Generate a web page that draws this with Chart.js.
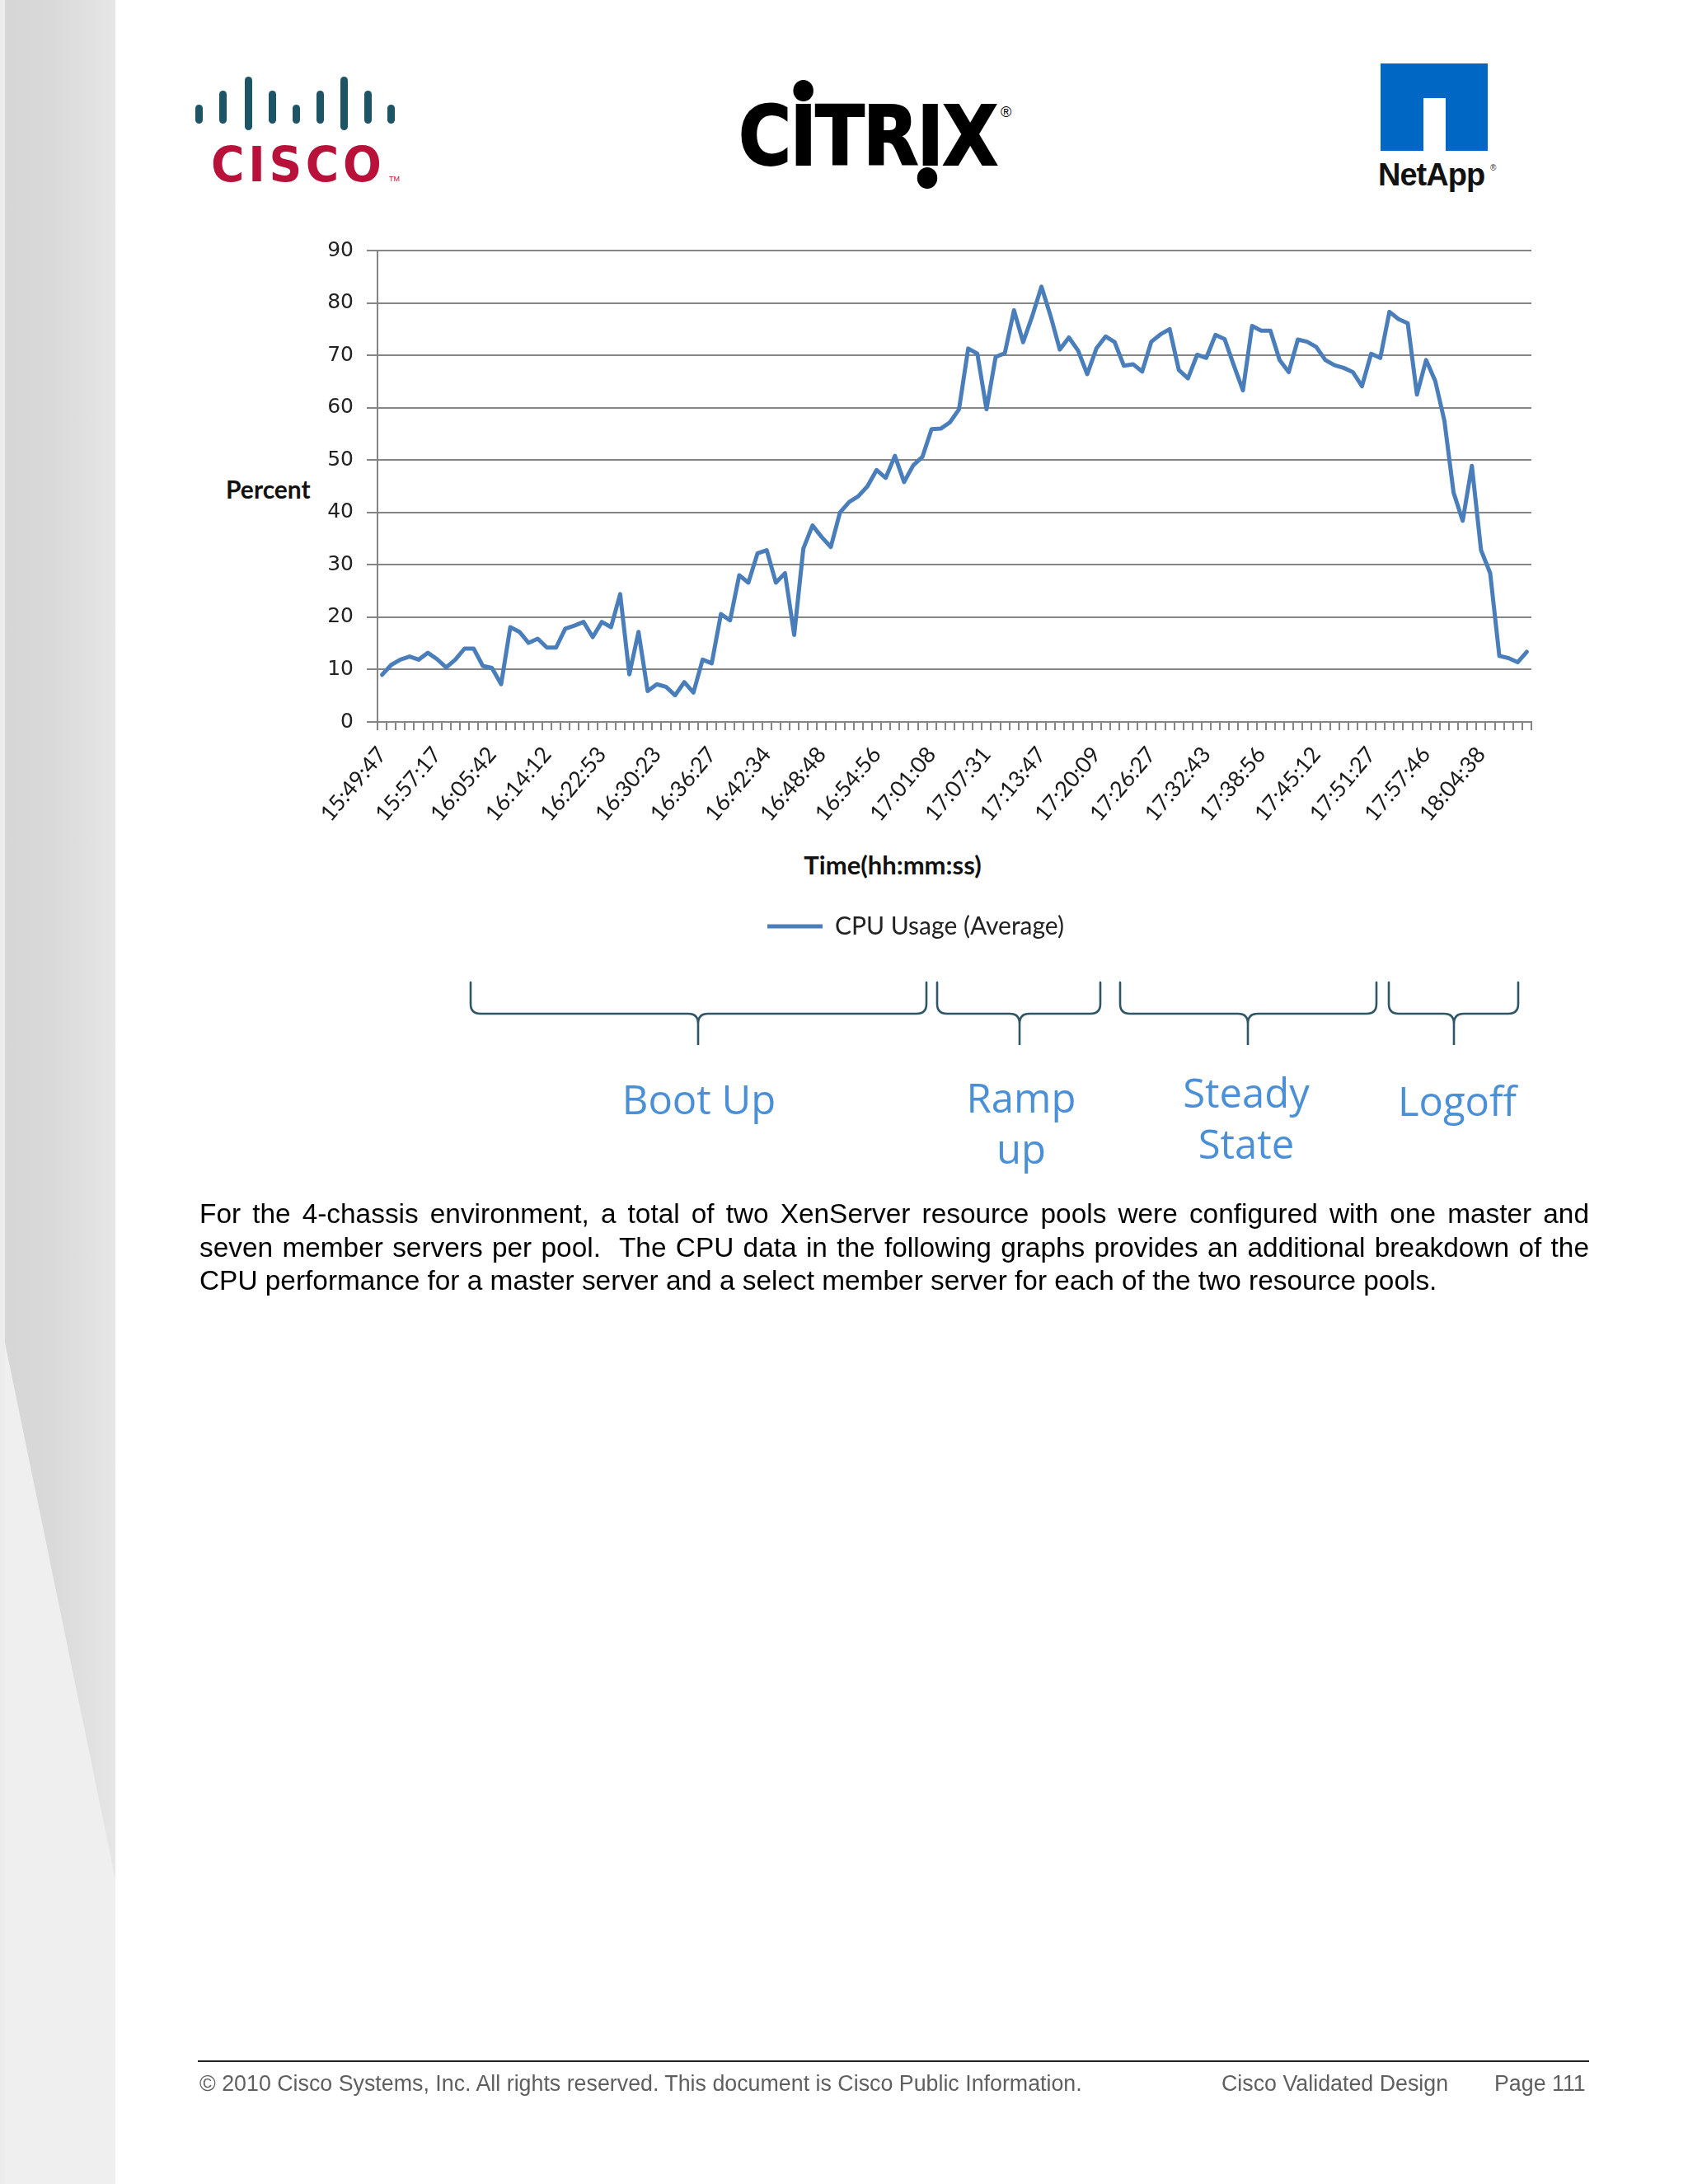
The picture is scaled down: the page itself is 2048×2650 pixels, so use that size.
<!DOCTYPE html>
<html>
<head>
<meta charset="utf-8">
<script src="https://cdn.jsdelivr.net/npm/chart.js@4.4.1/dist/chart.umd.min.js"></script>
<style>
  html, body { margin: 0; padding: 0; background: #fff; }
  body { width: 2048px; height: 2650px; position: relative; overflow: hidden; font-family: "Liberation Sans", Arial, sans-serif; }
  .abs { position: absolute; }
  #sidebar { left: 0; top: 0; width: 140px; height: 2650px;
    background: linear-gradient(to right, #e4e4e4 0px, #d6d6d6 8px, #d9d9d9 60px, #e6e6e6 140px); }
  #wedge { left: 0; top: 0; width: 140px; height: 2650px; }
  #chartBox { left: 250px; top: 270px; width: 1694px; height: 890px; }
  .cisco-bar { position: absolute; width: 9px; background: #1d5466; border-radius: 5px; }
  #ciscoText { left: 256px; top: 165px; font-family: "DejaVu Sans", sans-serif; font-weight: bold; font-size: 58px; letter-spacing: 5px; color: #b8123a; line-height: 70px; transform: scaleX(0.95); transform-origin: left; }
  #ciscoTM { left: 472px; top: 212px; font-size: 9px; color: #b8123a; font-family: "Liberation Sans"; }
  #citrix { left: 896px; top: 111px; display: flex; font-family: "DejaVu Sans", sans-serif; font-weight: bold; font-size: 100px; line-height: 110px; color: #000; -webkit-text-stroke: 2px #000; transform: scaleX(0.874); transform-origin: left top; }
  #citrix span { position: relative; display: inline-block; margin-right: -2px; }
  #citrix b { position: absolute; left: 50%; width: 28px; height: 26px; margin-left: -14px; background: #000; border-radius: 50%; }
  #citrix b.top { top: -14px; }
  #citrix b.bot { top: 92px; margin-left: -18px; }
  #netappBlock { left: 1675px; top: 77px; width: 130px; height: 106px; background: #0067c4; }
  #netappNotch { left: 1727px; top: 119px; width: 27px; height: 64px; background: #fff; }
  #netappText { left: 1672px; top: 190px; font-family: "Liberation Sans", sans-serif; font-weight: bold; font-size: 38px; line-height: 44px; color: #111; letter-spacing: -1px; }
  #netappR { left: 1808px; top: 198px; font-size: 10px; color: #333; }
  #percent { left: 274px; top: 574px; font-family: Lato, sans-serif; font-weight: bold; font-size: 30px; line-height: 38px; color: #111; }
  #xTitle { left: 883px; top: 1030px; width: 400px; text-align: center; font-family: Lato, sans-serif; font-weight: bold; font-size: 31px; line-height: 38px; color: #111; }
  .phase { position: absolute; font-family: "Open Sans", sans-serif; font-size: 49px; color: #4b90d6; text-align: center; line-height: 62px; width: 300px; }
  #para { left: 242px; top: 1453px; width: 1686px; font-family: "Liberation Sans", Arial, sans-serif; font-size: 33.4px; line-height: 40.6px; color: #000; }
  #para .j { display: block; text-align: justify; text-align-last: justify; white-space: nowrap; }
  #para .j.nj { text-align-last: left; }
  #footLine { left: 240px; top: 2500px; width: 1688px; height: 2px; background: #222; }
  .foot { position: absolute; top: 2512px; font-family: "Liberation Sans", Arial, sans-serif; font-size: 26.8px; line-height: 32px; color: #5f5f5f; }
</style>
</head>
<body>
<div id="sidebar" class="abs"></div>
<svg id="wedge" class="abs" width="140" height="2650" viewBox="0 0 140 2650">
  <polygon points="0,1600 140,2280 140,2650 0,2650" fill="#efefef"/>
  <rect x="0" y="0" width="6" height="2650" fill="#ececec"/>
</svg>

<!-- Cisco logo -->
<div class="cisco-bar" style="left:237px; top:127px; height:23px;"></div>
<div class="cisco-bar" style="left:266px; top:110px; height:40px;"></div>
<div class="cisco-bar" style="left:297px; top:93px; height:65px;"></div>
<div class="cisco-bar" style="left:326px; top:110px; height:40px;"></div>
<div class="cisco-bar" style="left:355px; top:127px; height:23px;"></div>
<div class="cisco-bar" style="left:384px; top:110px; height:40px;"></div>
<div class="cisco-bar" style="left:413px; top:93px; height:65px;"></div>
<div class="cisco-bar" style="left:442px; top:110px; height:40px;"></div>
<div class="cisco-bar" style="left:470px; top:127px; height:23px;"></div>
<div id="ciscoText" class="abs">CISCO</div>
<div id="ciscoTM" class="abs">TM</div>

<!-- Citrix logo -->
<div id="citrix" class="abs"><span>C</span><span>I<b class="top"></b></span><span>T</span><span>R</span><span>I<b class="bot"></b></span><span>X</span></div>
<div class="abs" style="left:1214px; top:126px; font-size:18px; font-family:'Liberation Sans'; color:#000;">®</div>

<!-- NetApp logo -->
<div id="netappBlock" class="abs"></div>
<div id="netappNotch" class="abs"></div>
<div id="netappText" class="abs">NetApp</div>
<div id="netappR" class="abs">®</div>

<div id="percent" class="abs">Percent</div>
<div id="xTitle" class="abs">Time(hh:mm:ss)</div>

<div id="chartBox" class="abs"><canvas id="cpuChart" width="1694" height="890"></canvas></div>

<!-- Phase braces -->
<svg class="abs" style="left:0; top:0;" width="2048" height="2650" viewBox="0 0 2048 2650">
  <g fill="none" stroke="#2e5666" stroke-width="2.6" stroke-linecap="round">
    <path d="M571,1192 L571,1218 Q571,1230 583,1230 L835,1230 Q847,1230 847,1242 L847,1268 L847,1242 Q847,1230 859,1230 L1112,1230 Q1124,1230 1124,1218 L1124,1192"/>
    <path d="M1137,1192 L1137,1218 Q1137,1230 1149,1230 L1225,1230 Q1237,1230 1237,1242 L1237,1268 L1237,1242 Q1237,1230 1249,1230 L1323,1230 Q1335,1230 1335,1218 L1335,1192"/>
    <path d="M1359,1192 L1359,1218 Q1359,1230 1371,1230 L1502,1230 Q1514,1230 1514,1242 L1514,1268 L1514,1242 Q1514,1230 1526,1230 L1658,1230 Q1670,1230 1670,1218 L1670,1192"/>
    <path d="M1685,1192 L1685,1218 Q1685,1230 1697,1230 L1752,1230 Q1764,1230 1764,1242 L1764,1268 L1764,1242 Q1764,1230 1776,1230 L1830,1230 Q1842,1230 1842,1218 L1842,1192"/>
  </g>
</svg>
<div class="phase" style="left:698px; top:1302px;">Boot Up</div>
<div class="phase" style="left:1089px; top:1300px;">Ramp<br>up</div>
<div class="phase" style="left:1362px; top:1294px;">Steady<br>State</div>
<div class="phase" style="left:1618px; top:1304px;">Logoff</div>

<div id="para" class="abs">
  <span class="j">For the 4-chassis environment, a total of two XenServer resource pools were configured with one master and</span>
  <span class="j">seven member servers per pool.&nbsp; The CPU data in the following graphs provides an additional breakdown of the</span>
  <span class="j nj">CPU performance for a master server and a select member server for each of the two resource pools.</span>
</div>

<div id="footLine" class="abs"></div>
<div class="foot" style="left:242px;">© 2010 Cisco Systems, Inc. All rights reserved. This document is Cisco Public Information.</div>
<div class="foot" style="left:1482px;">Cisco Validated Design</div>
<div class="foot" style="left:1813px;">Page 111</div>

<script>
// ---- Data ----
const seriesName = 'CPU Usage (Average)';
const cpuUsage = [
  9.0, 10.9, 11.9, 12.5, 11.9, 13.2, 12.0, 10.4, 11.9, 14.0,
  14.0, 10.7, 10.3, 7.2, 18.1, 17.2, 15.1, 15.9, 14.2, 14.2,
  17.8, 18.4, 19.1, 16.2, 19.1, 18.1, 24.4, 9.1, 17.2, 5.9,
  7.2, 6.7, 5.1, 7.6, 5.6, 11.9, 11.2, 20.6, 19.4, 28.0,
  26.6, 32.2, 32.8, 26.6, 28.4, 16.6, 33.1, 37.5, 35.3, 33.4,
  40.0, 42.0, 43.1, 45.0, 48.1, 46.6, 50.8, 45.8, 49.0, 50.6,
  55.9, 56.0, 57.2, 59.7, 71.3, 70.3, 59.7, 69.7, 70.4, 78.6,
  72.5, 77.5, 83.1, 77.5, 71.1, 73.4, 70.9, 66.4, 71.3, 73.6,
  72.5, 68.0, 68.3, 66.9, 72.6, 74.0, 75.0, 67.2, 65.6, 70.1,
  69.5, 73.9, 73.1, 68.1, 63.3, 75.6, 74.7, 74.7, 69.1, 66.8,
  73.0, 72.6, 71.6, 69.1, 68.1, 67.6, 66.8, 64.1, 70.3, 69.5,
  78.3, 76.9, 76.1, 62.5, 69.1, 65.1, 57.5, 43.8, 38.4, 48.9,
  32.8, 28.4, 12.6, 12.2, 11.4, 13.4
];
const tickLabels = [
  '15:49:47', '15:57:17', '16:05:42', '16:14:12', '16:22:53', '16:30:23', '16:36:27',
  '16:42:34', '16:48:48', '16:54:56', '17:01:08', '17:07:31', '17:13:47', '17:20:09',
  '17:26:27', '17:32:43', '17:38:56', '17:45:12', '17:51:27', '17:57:46', '18:04:38'
];
const labelInterval = 6;   // one time label every 6 samples
const yTicks = { min: 0, max: 90, step: 10 };

// category labels: labelled sample every labelInterval, others blank
const categories = cpuUsage.map((_, i) => (i % labelInterval === 0 ? (tickLabels[i / labelInterval] || '') : ''));

const gridGray = '#858585';

new Chart(document.getElementById('cpuChart'), {
  type: 'line',
  data: {
    labels: categories,
    datasets: [{
      label: seriesName,
      data: cpuUsage,
      borderColor: '#4a7ebb',
      backgroundColor: '#4a7ebb',
      borderWidth: 5,
      pointRadius: 0,
      pointHoverRadius: 0,
      tension: 0,
      fill: false,
      borderJoinStyle: 'round',
      borderCapStyle: 'round'
    }]
  },
  options: {
    responsive: false,
    animation: false,
    events: [],
    layout: { padding: { top: 34, right: 86, left: 114, bottom: 11 } },
    scales: {
      x: {
        type: 'category',
        offset: true,
        afterFit(scale) { scale.height = 223; },
        grid: { offset: true, drawOnChartArea: false, drawTicks: true, tickLength: 10, color: gridGray, lineWidth: 2 },
        border: { display: true, color: gridGray, width: 2 },
        ticks: {
          autoSkip: false,
          maxRotation: 50,
          minRotation: 50,
          padding: 14,
          color: '#1a1a1a',
          font: { family: 'Lato', size: 27 }
        }
      },
      y: {
        min: yTicks.min,
        max: yTicks.max,
        afterFit(scale) { scale.width = 94; },
        grid: { color: gridGray, lineWidth: 2, drawTicks: true, tickLength: 13 },
        border: { display: true, color: gridGray, width: 2 },
        ticks: {
          stepSize: yTicks.step,
          padding: 16,
          color: '#222',
          font: { family: 'DejaVu Sans', size: 25 }
        }
      }
    },
    plugins: {
      tooltip: { enabled: false },
      title: { display: false },
      legend: {
        display: true,
        position: 'bottom',
        labels: {
          usePointStyle: true,
          pointStyle: 'line',
          pointStyleWidth: 67,
          color: '#222',
          font: { family: 'Lato', size: 30 },
          padding: 10
        }
      }
    }
  }
});
</script>
</body>
</html>
